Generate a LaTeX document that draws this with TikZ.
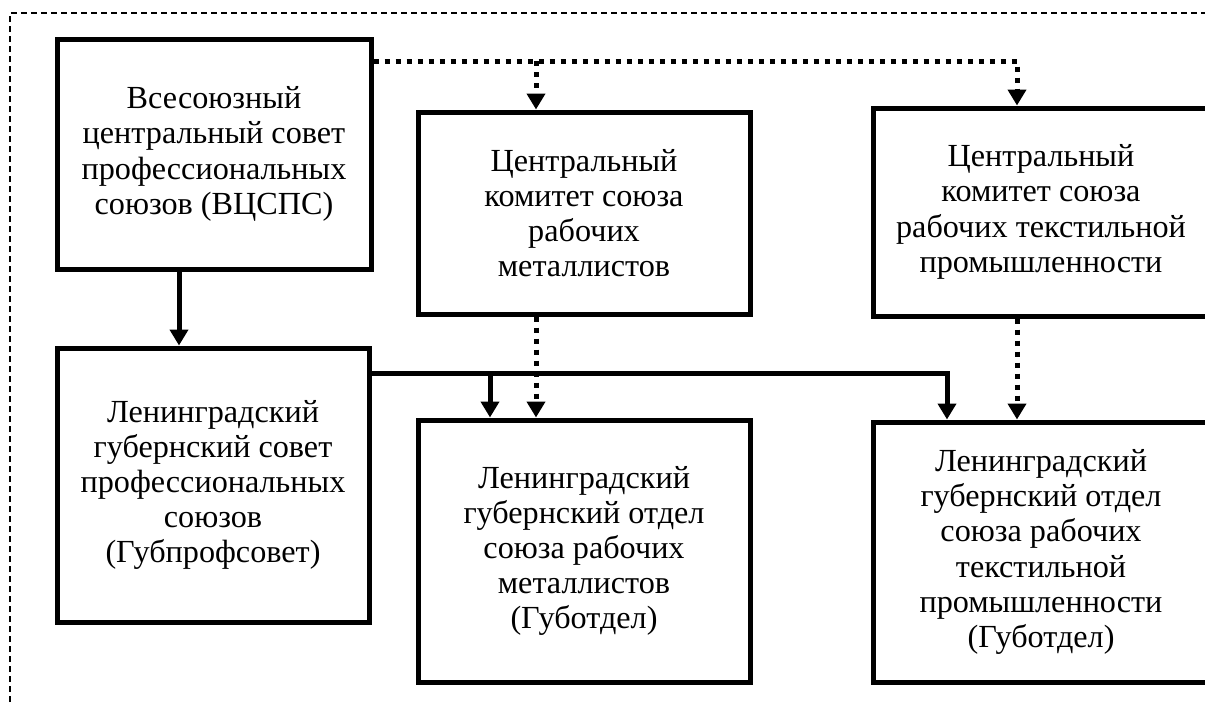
\documentclass[tikz,border=0pt]{standalone}
\usepackage{fontspec}
\setmainfont{Liberation Serif}
\newfontfamily\orgfont{Liberation Serif}
\usetikzlibrary{arrows.meta}
\tikzset{
	unit/.style={draw, line width=2.5pt, align=center, inner sep=0pt,
		font=\orgfont\fontsize{16.1}{17.6}\selectfont},
	solidlink/.style={line width=2.5pt, -{Triangle[width=9pt,length=8pt]}},
	dotlink/.style={line width=2.5pt, dash pattern=on 2.5pt off 3pt, -{Triangle[width=9pt,length=8pt]}},
	frame/.style={line width=0.7pt, dash pattern=on 3pt off 2pt}
}
\begin{document}
\begin{tikzpicture}[x=0.5pt,y=-0.5pt]
\useasboundingbox (0,0) rectangle (1205,702);
\clip (0,0) rectangle (1205,702);
\draw[frame] (10,702) -- (10,13) -- (1205,13);
\node[unit, minimum width=157pt, minimum height=115pt] (vcsps) at (214,154)
	{Всесоюзный\\центральный совет\\профессиональных\\союзов (ВЦСПС)};
\node[unit, minimum width=156pt, minimum height=137pt] (gubsovet) at (213,485)
	{Ленинградский\\губернский совет\\профессиональных\\союзов\\(Губпрофсовет)};
\node[unit, minimum width=166pt, minimum height=101pt] (ckmetal) at (584,213)
	{Центральный\\комитет союза\\рабочих\\металлистов};
\node[unit, minimum width=166pt, minimum height=131pt] (gubmetal) at (584,551)
	{Ленинградский\\губернский отдел\\союза рабочих\\металлистов\\(Губотдел)};
\node[unit, minimum width=168pt, minimum height=104pt] (cktekst) at (1041,212)
	{Центральный\\комитет союза\\рабочих текстильной\\промышленности};
\node[unit, minimum width=168pt, minimum height=130pt] (gubtekst) at (1041,552)
	{Ленинградский\\губернский отдел\\союза рабочих\\текстильной\\промышленности\\(Губотдел)};
\coordinate (down) at (179,0);
\coordinate (dotfork) at (536,61);
\coordinate (dotend) at (1017,61);
\coordinate (solfork) at (490,373);
\coordinate (solend) at (947,373);
\draw[solidlink] (vcsps.south -| down) -- (gubsovet.north -| down);
\draw[dotlink] (vcsps.east |- dotend) -| (cktekst.north -| dotend);
\draw[dotlink] (dotfork) -- (ckmetal.north -| dotfork);
\draw[dotlink] (ckmetal.south -| dotfork) -- (gubmetal.north -| dotfork);
\draw[dotlink] (cktekst.south -| dotend) -- (gubtekst.north -| dotend);
\draw[solidlink] (gubsovet.east |- solend) -| (gubtekst.north -| solend);
\draw[solidlink] (solfork) -- (gubmetal.north -| solfork);
\end{tikzpicture}
\end{document}
